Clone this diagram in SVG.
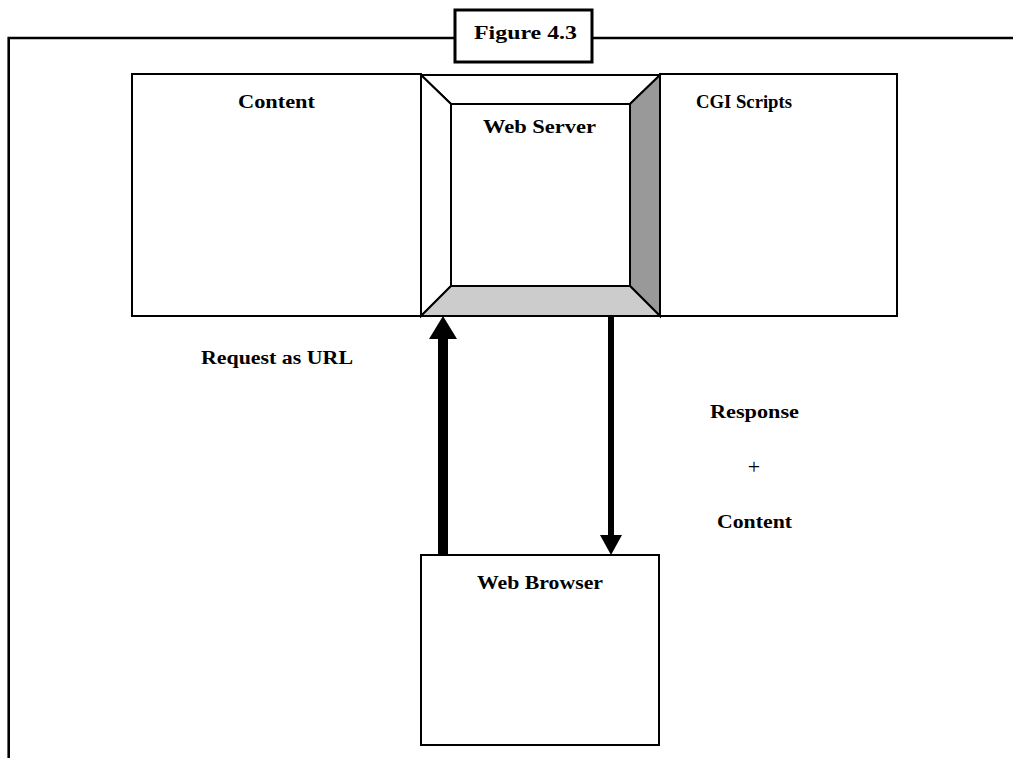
<svg xmlns="http://www.w3.org/2000/svg" width="1013" height="758" viewBox="0 0 1013 758">
<style>
.t{font-family:"Liberation Serif","DejaVu Serif",serif;font-weight:bold;font-size:18px;fill:#000}
.plus{font-family:"Liberation Serif","DejaVu Serif",serif;font-weight:normal;font-size:22px;fill:#000}
.b{fill:#fff;stroke:#000;stroke-width:2}
.p{stroke:#000;stroke-width:2;stroke-linejoin:miter}
</style>
<rect width="1013" height="758" fill="#fff"/>
<g id="frame">
<path d="M8.7 758 V38 H455 M592 38 H1013" fill="none" stroke="#000" stroke-width="2.6"/>
</g>
<g id="figure-title">
<rect x="455" y="10" width="137" height="52" fill="#fff" stroke="#000" stroke-width="3"/>
<text class="t" x="474" y="39" textLength="103" lengthAdjust="spacingAndGlyphs">Figure 4.3</text>
</g>
<g id="content">
<rect class="b" x="132" y="74" width="289" height="242"/>
<text class="t" x="238" y="108" textLength="77" lengthAdjust="spacingAndGlyphs">Content</text>
</g>
<g id="cgi-scripts">
<rect class="b" x="660" y="74" width="237" height="242"/>
<text class="t" x="696" y="108" textLength="96" lengthAdjust="spacingAndGlyphs">CGI Scripts</text>
</g>
<g id="web-server">
<polygon class="p" fill="#fff" points="421,75 660,75 630,104 451,104"/>
<polygon class="p" fill="#fff" points="421,75 451,104 451,286 421,316"/>
<polygon class="p" fill="#999" points="660,75 660,316 630,286 630,104"/>
<polygon class="p" fill="#ccc" points="421,316 451,286 630,286 660,316"/>
<rect x="451" y="104" width="179" height="182" fill="#fff" stroke="#000" stroke-width="2"/>
<text class="t" x="483" y="133" textLength="113" lengthAdjust="spacingAndGlyphs">Web Server</text>
</g>
<g id="web-browser">
<rect class="b" x="421" y="555" width="238" height="190"/>
<text class="t" x="477" y="589" textLength="126" lengthAdjust="spacingAndGlyphs">Web Browser</text>
</g>
<g id="connectors">
<rect x="438" y="338" width="10" height="217" fill="#000"/>
<polygon points="443,316 457,339 429,339" fill="#000"/>
<rect x="608" y="317" width="6" height="219" fill="#000"/>
<polygon points="600,535 622,535 611,555" fill="#000"/>
</g>
<g id="labels">
<text class="t" x="201" y="364" textLength="152" lengthAdjust="spacingAndGlyphs">Request as URL</text>
<text class="t" x="710" y="418" textLength="89" lengthAdjust="spacingAndGlyphs">Response</text>
<text class="plus" x="754" y="474" text-anchor="middle">+</text>
<text class="t" x="717" y="528" textLength="75" lengthAdjust="spacingAndGlyphs">Content</text>
</g>
</svg>
